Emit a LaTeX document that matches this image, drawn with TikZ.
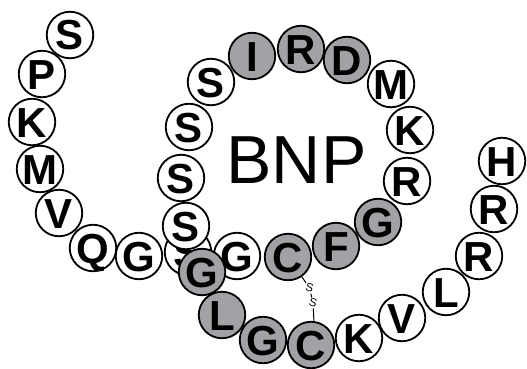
\documentclass[tikz,border=0pt]{standalone}
\usepackage{fontspec}
\setmainfont{Liberation Sans}
\definecolor{aagray}{RGB}{160,162,165}
\tikzset{
  aa/.style={circle, draw=black, line width=1.8pt, fill=white, minimum size=46.5pt, inner sep=0pt,
    font=\fontsize{42}{42}\selectfont\bfseries, text height=30pt, text depth=0pt},
  aag/.style={aa, fill=aagray},
  bondS/.style={inner sep=0.8pt, font=\fontsize{11.5}{11.5}\selectfont, rotate=-15},
  bond/.style={line width=1pt}
}
\begin{document}
\begin{tikzpicture}[x=1pt,y=-1pt]
\useasboundingbox (0,0) rectangle (527,369);
\node[aa]  (s1)  at (70,35)   {S};
\node[aa]  (p2)  at (42,74)   {P};
\node[aa]  (k3)  at (32,122)  {K};
\node[aa]  (m4)  at (40,169)  {M};
\node[aa]  (v5)  at (59,213)  {V};
\node[aa]  (q6)  at (93,248)  {Q};
\node[aa]  (g7)  at (139,256) {G};
\node[aa]  (s8)  at (188,252) {S};
\node[aa]  (g9)  at (237,256) {G};
\node[aag] (c10) at (288,257) {C};
\node[aag] (f11) at (336,246) {F};
\node[aag] (g12) at (378,222) {G};
\node[aa]  (r13) at (407,181) {R};
\node[aa]  (k14) at (410,130) {K};
\node[aa]  (m15) at (391,84)  {M};
\node[aag] (d16) at (347,60)  {D};
\node[aag] (r17) at (301,49)  {R};
\node[aag] (i18) at (252,56)  {I};
\node[aa]  (s19) at (211,82)  {S};
\node[aa]  (s20) at (189,127) {S};
\node[aa]  (s21) at (181,178) {S};
\node[aa]  (s22) at (186,226) {S};
\node[aag] (g23) at (202,272) {G};
\node[aag] (l24) at (222,315) {L};
\node[aag] (g25) at (263,340) {G};
\node[aag] (c26) at (311,345) {C};
\node[aa]  (k27) at (359,338) {K};
\node[aa]  (v28) at (402,318) {V};
\node[aa]  (l29) at (446,292) {L};
\node[aa]  (r30) at (479,256) {R};
\node[aa]  (r31) at (494,209) {R};
\node[aa]  (h32) at (502,161) {H};
\node[font=\fontsize{68}{68}\selectfont, anchor=base] (bnp) at (296.5,183) {BNP};
\node[bondS] (ss1) at (309.5,288) {S};
\node[bondS] (ss2) at (313,303) {S};
\draw[bond] (c10.-55) -- (ss1);
\draw[bond] (ss1) -- (ss2);
\draw[bond] (ss2) -- (c26.83);
\end{tikzpicture}
\end{document}
